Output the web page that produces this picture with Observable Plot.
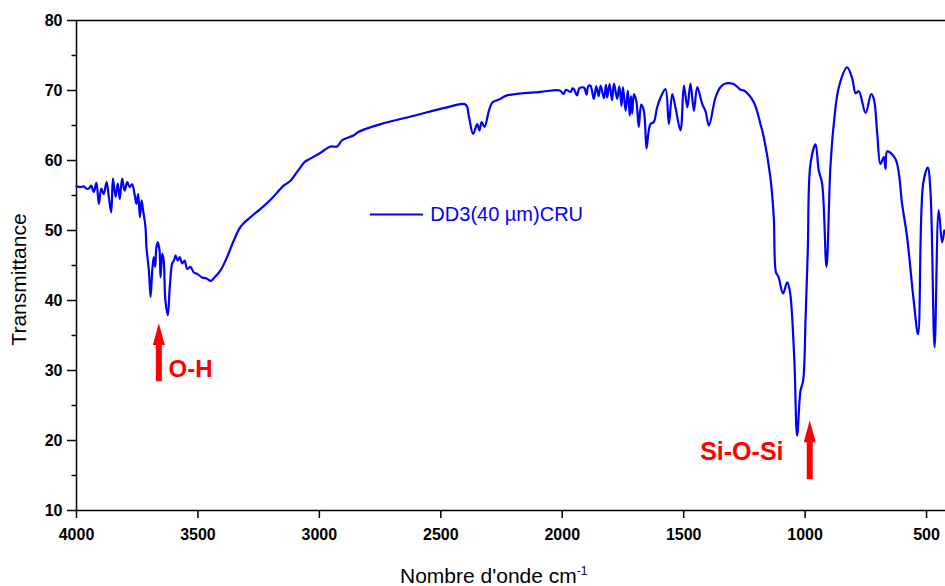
<!DOCTYPE html>
<html>
<head>
<meta charset="utf-8">
<script src="https://cdn.jsdelivr.net/npm/d3@7"></script>
<script src="https://cdn.jsdelivr.net/npm/@observablehq/plot@0.6"></script>
<style>
  body { margin: 0; background: #fff; }
  #chart { position: relative; width: 945px; height: 586px; font-family: "Liberation Sans", Arial, sans-serif; }
  #xtitle { position: absolute; left: 400px; top: 561px; font-size: 21px; line-height: 21px; white-space: nowrap; color: #000; }
  #xtitle sup { font-size: 12px; }
</style>
</head>
<body>
<div id="chart"><div id="xtitle">Nombre d'onde cm<sup>-1</sup></div></div>
<script>
// FTIR spectrum: wavenumber (cm-1) and transmittance (%)
const wavenumbers = [
  4000, 3985, 3970, 3960, 3949, 3940, 3929, 3918, 3908, 3898, 3888, 3876, 3867, 3857, 3850, 3839,
  3830, 3822, 3812, 3802, 3791, 3781, 3771, 3761, 3753, 3746, 3739, 3732, 3726, 3716, 3712, 3702,
  3695, 3688, 3682, 3676, 3671, 3665, 3658, 3654, 3647, 3641, 3634, 3624, 3616, 3606, 3599, 3592,
  3583, 3575, 3565, 3555, 3544, 3531, 3517, 3503, 3483, 3462, 3448, 3432, 3407, 3380, 3352, 3325,
  3284, 3242, 3201, 3147, 3119, 3085, 3060, 3036, 3000, 2954, 2927, 2906, 2858, 2838, 2748, 2611,
  2474, 2398, 2384, 2367, 2350, 2341, 2332, 2320, 2302, 2288, 2261, 2227, 2089, 2010, 1994, 1985,
  1965, 1958, 1952, 1939, 1930, 1910, 1900, 1893, 1884, 1870, 1860, 1850, 1842, 1828, 1820, 1815,
  1805, 1795, 1787, 1774, 1765, 1756, 1750, 1739, 1730, 1722, 1717, 1712, 1705, 1695, 1685, 1675,
  1664, 1653, 1645, 1637, 1623, 1610, 1595, 1575, 1561, 1547, 1534, 1513, 1499, 1485, 1472, 1458,
  1444, 1424, 1410, 1396, 1369, 1348, 1328, 1293, 1266, 1252, 1211, 1184, 1170, 1143, 1129, 1120,
  1110, 1091, 1074, 1063, 1045, 1033, 1019, 1008, 998, 989, 978, 957, 944, 930, 912, 896,
  882, 861, 827, 806, 792, 779, 751, 728, 717, 703, 690, 676, 669, 662, 628, 600,
  580, 553, 535, 514, 495, 484, 467, 450, 436, 427
];
const transmittance = [
  56.3, 56.2, 56.3, 56.0, 56.0, 56.4, 55.5, 56.8, 53.8, 56.0, 55.2, 56.9, 54.8, 52.6, 57.4, 54.8,
  56.7, 54.5, 57.4, 55.7, 56.9, 56.2, 56.6, 55.2, 53.8, 55.2, 51.9, 54.3, 52.9, 50.5, 47.6, 44.3,
  40.5, 44.3, 46.2, 44.8, 47.6, 48.3, 47.1, 43.3, 46.7, 45.7, 40.0, 37.9, 41.9, 45.3, 45.7, 46.4,
  45.7, 46.2, 45.3, 45.7, 44.5, 44.8, 44.0, 43.8, 43.3, 43.1, 42.8, 43.3, 44.3, 46.2, 48.6, 50.5,
  51.9, 53.1, 54.4, 56.4, 57.1, 58.7, 59.8, 60.3, 61.0, 62.0, 62.0, 62.9, 63.6, 64.1, 65.2, 66.4,
  67.6, 68.0, 66.2, 63.8, 65.2, 64.3, 65.5, 64.8, 67.1, 68.3, 68.7, 69.3, 69.8, 70.0, 69.5, 70.1,
  69.8, 70.3, 70.2, 69.3, 70.3, 70.4, 69.4, 70.6, 70.7, 68.8, 70.6, 69.2, 70.7, 68.9, 70.8, 69.0,
  70.9, 68.6, 71.0, 68.8, 70.6, 67.8, 70.5, 67.1, 70.0, 66.4, 69.2, 66.7, 69.5, 68.5, 64.8, 68.0,
  67.1, 61.7, 64.0, 65.2, 65.5, 67.5, 69.0, 70.2, 65.2, 69.5, 67.6, 64.3, 70.7, 67.6, 71.0, 67.1,
  70.5, 68.1, 67.0, 65.0, 69.0, 70.5, 71.0, 70.9, 70.1, 70.0, 68.3, 65.2, 63.3, 57.6, 51.9, 44.0,
  43.4, 41.0, 42.6, 41.4, 32.0, 20.7, 27.1, 28.6, 37.6, 47.1, 59.5, 62.3, 58.6, 56.7, 44.8, 59.0,
  65.2, 70.5, 73.3, 71.7, 69.6, 69.9, 66.8, 69.5, 68.8, 63.8, 59.5, 60.5, 58.8, 61.3, 60.2, 53.6,
  49.0, 40.0, 35.2, 56.7, 59.0, 55.7, 33.3, 52.9, 48.3, 50.0
];

// Axis ticks
const xTicks = [4000, 3500, 3000, 2500, 2000, 1500, 1000, 500];
const yTicks = [10, 20, 30, 40, 50, 60, 70, 80];
const yMinorTicks = [15, 25, 35, 45, 55, 65, 75];

// Band annotations
const bandLabels = ["O-H", "Si-O-Si"];
const bandLabelX = [3621, 1089];
const bandLabelY = [30.2, 18.4];
const arrowX = [3661, 981];
const arrowTip = [36.8, 22.9];
const arrowBase = [28.4, 14.4];

const seriesName = "DD3(40 µm)CRU";

const spectrum = wavenumbers.map((wn, i) => ({wn, t: transmittance[i]}));
const arrows = arrowX.map((x, i) => ({x, tip: arrowTip[i], base: arrowBase[i]}));

const blue = "#0000ff";
const red = "#ff0000";

// Filled arrow head, tip at the origin
const arrowHead = {
  draw(ctx) {
    ctx.moveTo(0, 0);
    ctx.lineTo(6, 22);
    ctx.lineTo(-6, 22);
    ctx.closePath();
  }
};

const plot = Plot.plot({
  width: 945,
  height: 586,
  marginTop: 20,
  marginBottom: 76,
  marginLeft: 76,
  marginRight: 0,
  style: {fontFamily: "'Liberation Sans', Arial, sans-serif", background: "#fff", color: "#000"},
  x: {domain: [4000, 422]},
  y: {domain: [10, 80]},
  marks: [
    Plot.axisX({ticks: xTicks, tickFormat: "d", tickSize: 8, tickPadding: 10, fontSize: 16, fontWeight: "bold", strokeWidth: 1.5, label: null}),
    Plot.axisY({ticks: yTicks, tickSize: 9, tickPadding: 5, fontSize: 16, fontWeight: "bold", strokeWidth: 1.5, label: null}),
    Plot.axisY({ticks: yMinorTicks, tickSize: 4.5, tickFormat: () => "", strokeWidth: 1.5, label: null}),
    Plot.ruleX([4000], {strokeWidth: 1.5}),
    Plot.ruleY([10], {strokeWidth: 1.5}),
    Plot.ruleY([80], {strokeWidth: 1.5}),
    Plot.text(["Transmittance"], {frameAnchor: "left", textAnchor: "middle", dx: -57, dy: 14, rotate: -90, fontSize: 21, text: d => d}),
    Plot.line(spectrum, {x: "wn", y: "t", stroke: blue, strokeWidth: 2.2, curve: "catmull-rom"}),
    // legend
    Plot.ruleY([52.3], {x1: 2790, x2: 2571, stroke: blue, strokeWidth: 2}),
    Plot.text([seriesName], {x: 2543, y: 52.3, text: d => d, textAnchor: "start", fill: blue, fontSize: 20}),
    // arrows marking absorption bands
    Plot.ruleX(arrows, {x: "x", y1: "tip", y2: "base", insetTop: 14, stroke: red, strokeWidth: 6}),
    Plot.dot(arrows, {x: "x", y: "tip", symbol: arrowHead, fill: red, stroke: null, r: 5}),
    Plot.text([bandLabels[0]], {x: bandLabelX[0], y: bandLabelY[0], text: d => d, textAnchor: "start", fill: red, fontSize: 24, fontWeight: "bold"}),
    Plot.text([bandLabels[1]], {x: bandLabelX[1], y: bandLabelY[1], text: d => d, textAnchor: "end", fill: red, fontSize: 25, fontWeight: "bold"})
  ]
});

document.getElementById("chart").prepend(plot);
</script>
</body>
</html>
